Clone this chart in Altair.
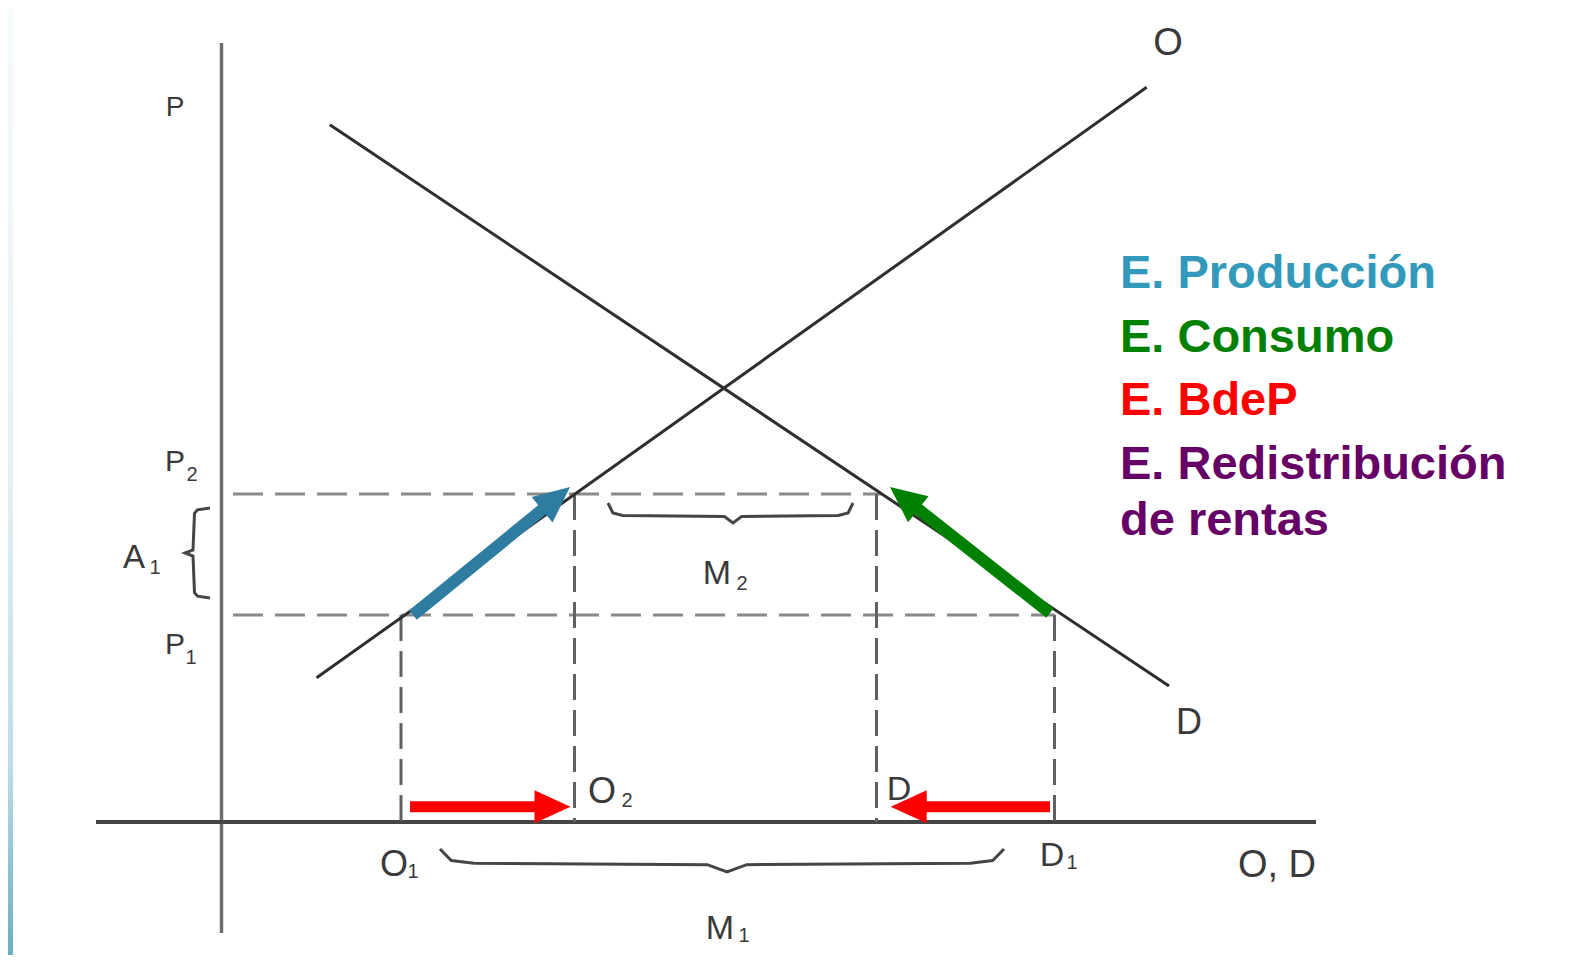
import math
import altair as alt
import pandas as pd

# ---------------- diagram values (1 unit = 1 px of the reference, origin at axes crossing) -------------
W, H = 1575, 947
Q_DOMAIN = [-213.5, 1361.5]
P_DOMAIN = [-133, 814]

# axes extents
Y_AXIS_P = [-111, 779]
X_AXIS_Q = [-125.5, 1094.5]

# supply (O) and demand (D) curves, end points
SUPPLY_Q = [95.1, 925.2]
SUPPLY_P = [144.2, 734.7]
DEMAND_Q = [108.3, 947.5]
DEMAND_P = [697.2, 136.0]

# prices and quantities
P1, P2 = 207, 328
Q_O1, Q_O2, Q_D2, Q_D1 = 179.5, 353.0, 655.0, 833.0
DASH_START = 11.5
P2_DASH_END = 659.5
P1_DASH_END = 833.0

# effect arrows
ARROW_TAIL_Q = [191.5, 828.5, 188.5, 828.5]
ARROW_TAIL_P = [207.0, 209.0, 15.3, 15.3]
ARROW_TIP_Q = [348.5, 668.5, 349.0, 669.2]
ARROW_TIP_P = [335.0, 335.0, 15.3, 15.3]
ARROW_COLORS = ["#2E7DA1", "#008000", "#FF0000", "#FF0000"]
ARROW_WIDTH = [12, 12, 11, 11]
HEAD_LEN = 36

# braces: (start, end, base, depth, tip position, orientation)
BRACE_START = [218.5, 386.5, 314.0]
BRACE_END = [782.5, 631.5, 224.0]
BRACE_BASE = [-27.0, 319.0, -11.5]
BRACE_DEPTH = [23.0, 20.0, 25.0]
BRACE_TIP = [505.5, 511.5, 269.0]
BRACE_ORIENT = ["h", "h", "v"]

# legend texts
LEGEND_TEXT = ["E. Producción", "E. Consumo", "E. BdeP", "E. Redistribución", "de rentas"]
LEGEND_COLORS = ["#3399BB", "#008000", "#FF0000", "#660066", "#660066"]
LEGEND_Q = 898.5
LEGEND_P = [534, 470, 407, 343, 287]

# diagram labels
LABEL_TEXT = ["O", "D", "P", "P", "P", "A", "O", "O", "D", "D", "O, D", "M", "M"]
LABEL_Q = [946.5, 967.5, -46.5, -46.5, -46.5, -87.5, 172.5, 380.5, 677.5, 830.5, 1055.5, 498.5, 495.5]
LABEL_P = [778, 99, 714, 360, 177, 264, -43, 30, 32, -34, -44, -107, 248]
LABEL_SIZE = [38, 36, 28, 30, 30, 33, 36, 36, 34, 34, 38, 34, 34]

SUB_TEXT = ["2", "1", "1", "1", "2", "2", "1", "1", "2"]
SUB_Q = [-29.5, -30.5, -66.5, 191.5, 405.5, 700.5, 850.5, 522.5, 520.5]
SUB_P = [347, 164, 254, -50, 21, 21, -41, -114, 238]

# ---------------------------------------------------------------------------------------------------------
XS = alt.Scale(domain=Q_DOMAIN, nice=False, zero=False)
YS = alt.Scale(domain=P_DOMAIN, nice=False, zero=False)


def X(f):
    return alt.X(f, type="quantitative", scale=XS, axis=None)


def Y(f):
    return alt.Y(f, type="quantitative", scale=YS, axis=None)


def segs(rows):
    return pd.DataFrame(rows, columns=["q", "p", "q2", "p2"])


def rule_layer(df, **kw):
    return alt.Chart(df).mark_rule(**kw).encode(
        x=X("q"), y=Y("p"), x2="q2", y2="p2"
    )


# left decorative strip
strip = alt.Chart(pd.DataFrame({"a": [0]})).mark_rect(
    fill=alt.Gradient(
        gradient="linear",
        stops=[
            alt.GradientStop(offset=0, color="#f6fbfc"),
            alt.GradientStop(offset=0.5, color="#e2f0f4"),
            alt.GradientStop(offset=0.8, color="#bcdce6"),
            alt.GradientStop(offset=1, color="#6aaec2"),
        ],
        x1=0, x2=0, y1=0, y2=1,
    )
).encode(x=alt.value(0), x2=alt.value(5), y=alt.value(0), y2=alt.value(H))

y_axis = rule_layer(segs([[0, Y_AXIS_P[0], 0, Y_AXIS_P[1]]]), color="#6e6e6e", strokeWidth=3.5)
x_axis = rule_layer(segs([[X_AXIS_Q[0], 0, X_AXIS_Q[1], 0]]), color="#454545", strokeWidth=4)

curves = rule_layer(
    segs([
        [SUPPLY_Q[0], SUPPLY_P[0], SUPPLY_Q[1], SUPPLY_P[1]],
        [DEMAND_Q[0], DEMAND_P[0], DEMAND_Q[1], DEMAND_P[1]],
    ]),
    color="#2e2e2e", strokeWidth=3,
)

h_dash = rule_layer(
    segs([
        [DASH_START, P2, P2_DASH_END, P2],
        [DASH_START, P1, P1_DASH_END, P1],
    ]),
    color="#8a8a8a", strokeWidth=3, strokeDash=[30, 12],
)

v_dash = rule_layer(
    segs([
        [Q_O1, P1, Q_O1, 0],
        [Q_O2, P2, Q_O2, 0],
        [Q_D2, P2, Q_D2, 0],
        [Q_D1, P1, Q_D1, 0],
    ]),
    color="#606060", strokeWidth=3, strokeDash=[26, 10],
)

# braces
brace_rows = []
OFF = [0, 0.5, 0.62, 0.68, 1.0, 0.68, 0.62, 0.5, 0]
for b in range(len(BRACE_START)):
    a0, a1 = BRACE_START[b], BRACE_END[b]
    ln = a1 - a0
    tip = BRACE_TIP[b]
    along = [a0, a0 + 0.02 * ln, a0 + 0.06 * ln, tip - 0.035 * ln, tip,
             tip + 0.035 * ln, a1 - 0.06 * ln, a1 - 0.02 * ln, a1]
    for i, (a, o) in enumerate(zip(along, OFF)):
        off = BRACE_BASE[b] - o * BRACE_DEPTH[b]
        if BRACE_ORIENT[b] == "h":
            brace_rows.append({"brace": b, "i": i, "q": a, "p": off})
        else:
            brace_rows.append({"brace": b, "i": i, "q": off, "p": a})
braces = alt.Chart(pd.DataFrame(brace_rows)).mark_line(
    color="#454545", strokeWidth=3
).encode(x=X("q"), y=Y("p"), detail="brace:N", order="i:Q")

# arrows
shaft_rows, head_rows = [], []
for k in range(len(ARROW_TIP_Q)):
    dq = ARROW_TIP_Q[k] - ARROW_TAIL_Q[k]
    dp = ARROW_TIP_P[k] - ARROW_TAIL_P[k]
    n = math.hypot(dq, dp)
    uq, up = dq / n, dp / n
    base_q = ARROW_TIP_Q[k] - 0.8 * HEAD_LEN * uq
    base_p = ARROW_TIP_P[k] - 0.8 * HEAD_LEN * up
    ang = math.degrees(math.atan2(dq, dp)) % 360
    shaft_rows.append({"q": ARROW_TAIL_Q[k], "p": ARROW_TAIL_P[k], "q2": base_q, "p2": base_p,
                       "c": ARROW_COLORS[k], "w": ARROW_WIDTH[k]})
    head_rows.append({"q": ARROW_TIP_Q[k], "p": ARROW_TIP_P[k], "c": ARROW_COLORS[k], "a": ang})

shafts = alt.Chart(pd.DataFrame(shaft_rows)).mark_rule(strokeCap="butt").encode(
    x=X("q"), y=Y("p"), x2="q2", y2="p2",
    color=alt.Color("c:N", scale=None),
    strokeWidth=alt.StrokeWidth("w:Q", scale=None),
)
heads = alt.Chart(pd.DataFrame(head_rows)).mark_point(
    shape="M0,0L0.92,2L-0.92,2Z", filled=True, opacity=1, size=HEAD_LEN * HEAD_LEN, strokeWidth=0
).encode(
    x=X("q"), y=Y("p"),
    color=alt.Color("c:N", scale=None),
    angle=alt.Angle("a:Q", scale=None),
)

labels = alt.Chart(pd.DataFrame({"t": LABEL_TEXT, "q": LABEL_Q, "p": LABEL_P, "s": LABEL_SIZE})).mark_text(
    font="Liberation Sans", color="#3a3a3a", align="center", baseline="middle"
).encode(x=X("q"), y=Y("p"), text="t:N", size=alt.Size("s:Q", scale=None))

subs = alt.Chart(pd.DataFrame({"t": SUB_TEXT, "q": SUB_Q, "p": SUB_P})).mark_text(
    font="Liberation Sans", color="#3a3a3a", align="center", baseline="middle", fontSize=20
).encode(x=X("q"), y=Y("p"), text="t:N")

legend = alt.Chart(pd.DataFrame({"t": LEGEND_TEXT, "c": LEGEND_COLORS, "p": LEGEND_P})).mark_text(
    font="Liberation Sans", fontWeight="bold", fontSize=47, align="left", baseline="alphabetic"
).encode(
    x=alt.X("q:Q", scale=XS, axis=None), y=Y("p"), text="t:N",
    color=alt.Color("c:N", scale=None),
).transform_calculate(q=str(LEGEND_Q))

chart = alt.layer(
    strip, y_axis, x_axis, h_dash, v_dash, curves, braces, labels, subs, shafts, heads, legend
).properties(
    width=W, height=H, padding=0, autosize=alt.AutoSizeParams(type="none"), background="white"
).configure_view(strokeWidth=0)

chart.save("out.html", embed_options={"renderer": "svg", "actions": False})
